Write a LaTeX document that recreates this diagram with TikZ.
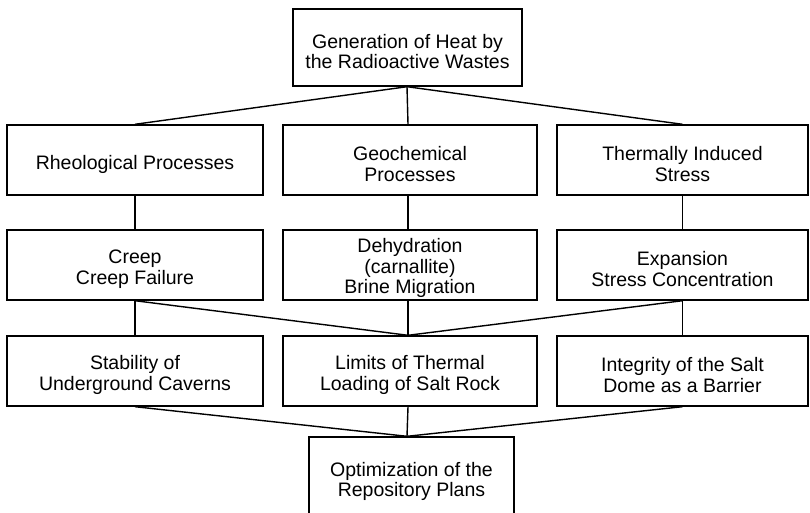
\documentclass[tikz,border=0pt]{standalone}
\usepackage{fontspec}
\setmainfont{Liberation Sans}
\begin{document}
\begin{tikzpicture}[x=1pt,y=-1pt,
  box/.style={draw, line width=1.4pt, rectangle, inner sep=0pt, minimum height=70pt},
  txt/.style={align=center, inner sep=0pt, font=\fontsize{19.5}{20.5}\selectfont},
  link/.style={line width=1.4pt}]
\clip (0,0) rectangle (810,513);
\useasboundingbox (0,0) rectangle (810,513);
\node[box, minimum width=229pt, minimum height=77pt] (top) at (407.5,47.5) {};
\node[txt] (topt) at ([yshift=-4pt]top.center) {Generation of Heat by\\the Radioactive Wastes};
% row 1
\node[box, minimum width=256pt] (a1) at (135,160) {};
\node[box, minimum width=254pt] (b1) at (410,160) {};
\node[box, minimum width=251pt] (c1) at (682.5,160) {};
\node[txt] (a1t) at ([yshift=-4pt]a1.center) {Rheological Processes};
\node[txt] (b1t) at ([yshift=-4pt]b1.center) {Geochemical\\Processes};
\node[txt] (c1t) at ([yshift=-4pt]c1.center) {Thermally Induced\\Stress};
% row 2
\node[box, minimum width=256pt] (a2) at (135,265) {};
\node[box, minimum width=254pt] (b2) at (410,265) {};
\node[box, minimum width=251pt] (c2) at (682.5,265) {};
\node[txt] (a2t) at ([yshift=-4pt]a2.center) {Creep\\Creep Failure};
\node[txt] (b2t) at ([yshift=-3pt]b2.center) {Dehydration\\(carnallite)\\Brine Migration};
\node[txt] (c2t) at ([yshift=-4pt]c2.center) {Expansion\\Stress Concentration};
% row 3
\node[box, minimum width=256pt] (a3) at (135,371) {};
\node[box, minimum width=254pt] (b3) at (410,371) {};
\node[box, minimum width=251pt] (c3) at (682.5,371) {};
\node[txt] (a3t) at ([yshift=-4pt]a3.center) {Stability of\\Underground Caverns};
\node[txt] (b3t) at ([yshift=-4pt]b3.center) {Limits of Thermal\\Loading of Salt Rock};
\node[txt] (c3t) at ([yshift=-4pt]c3.center) {Integrity of the Salt\\Dome as a Barrier};
% bottom
\node[box, minimum width=205pt, minimum height=85pt] (bot) at (411.5,479.5) {};
\node[txt] (bott) at ([yshift=-2pt]bot.center) {Optimization of the\\Repository Plans};
% connectors
\coordinate (ts) at ([xshift=-0.5pt]top.south);
\draw[link] (ts) -- (a1.north);
\draw[link] (ts) -- ([xshift=-2pt]b1.north);
\draw[link] (ts) -- (c1.north);
\draw[link] (a1.south) -- (a2.north);
\draw[link] ([xshift=-2pt]b1.south) -- ([xshift=-2pt]b2.north);
\draw[link] (c1.south) -- (c2.north);
\coordinate (bn) at ([xshift=-2pt]b3.north);
\draw[link] (a2.south) -- (a3.north);
\draw[link] ([xshift=-2pt]b2.south) -- (bn);
\draw[link] (c2.south) -- (c3.north);
\draw[link] (a2.south) -- (bn);
\draw[link] (c2.south) -- (bn);
\coordinate (botn) at ([xshift=-4.5pt]bot.north);
\draw[link] (a3.south) -- (botn);
\draw[link] ([xshift=-2pt]b3.south) -- (botn);
\draw[link] (c3.south) -- (botn);
\end{tikzpicture}
\end{document}
